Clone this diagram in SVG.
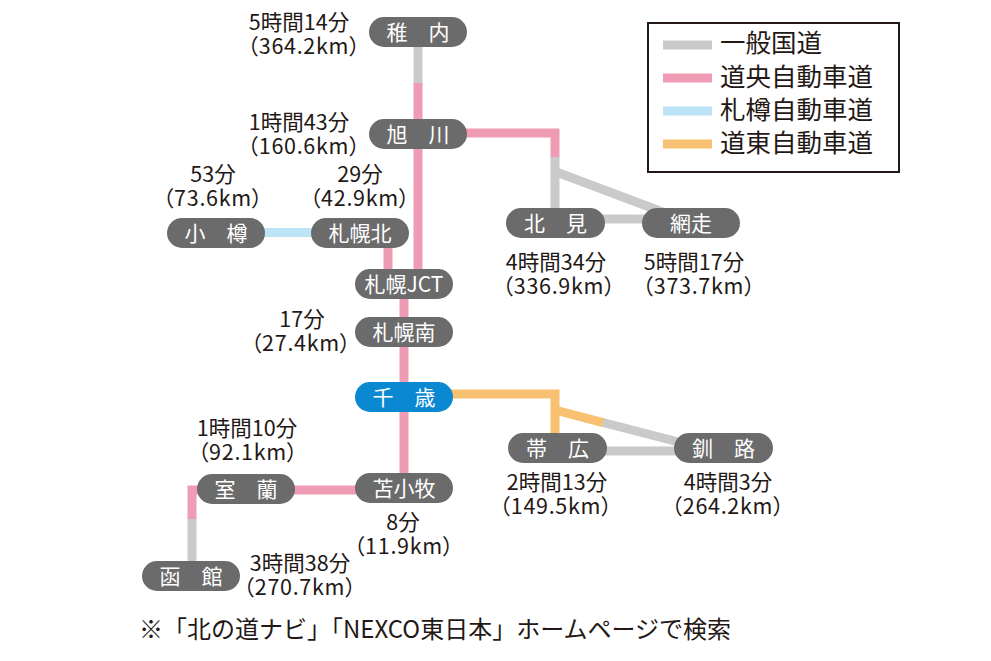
<svg xmlns="http://www.w3.org/2000/svg" width="991" height="661" viewBox="0 0 991 661">
<style>
.ln{fill:none;stroke-width:9;stroke-linecap:butt;stroke-linejoin:miter}
.g{stroke:#c9caca}.p{stroke:#ef9bb4}.b{stroke:#bde3f6}.o{stroke:#f8c172}
.pill{fill:#6b6b6b}
.pill.blue{fill:#0a88d2}
.nt{font-family:"Noto Sans CJK JP","Noto Sans",sans-serif;font-size:21px;fill:#ffffff;text-anchor:middle}
.lb{font-family:"Noto Sans CJK JP","Noto Sans",sans-serif;font-size:21.5px;fill:#231815;text-anchor:middle}
.km{font-feature-settings:"palt";letter-spacing:0.7px}
.lg{font-family:"Noto Sans CJK JP","Noto Sans",sans-serif;font-size:25.5px;fill:#231815}
.ft{font-family:"Noto Sans CJK JP","Noto Sans",sans-serif;font-size:24px;fill:#231815}
</style>
<rect width="991" height="661" fill="#ffffff"/>

<g id="connectors">
<line class="ln g" x1="418" y1="45" x2="418" y2="84"/>
<line class="ln p" x1="418" y1="83" x2="418" y2="284"/>
<polyline class="ln p" points="460,133 555,133 555,158"/>
<line class="ln g" x1="555" y1="157" x2="555" y2="215"/>
<line class="ln g" x1="555" y1="171.5" x2="680" y2="218.5"/>
<line class="ln g" x1="595" y1="219" x2="655" y2="219"/>
<line class="ln b" x1="255" y1="232.5" x2="325" y2="232.5"/>
<line class="ln p" x1="388" y1="240" x2="388" y2="284"/>
<line class="ln p" x1="404" y1="284" x2="404" y2="488"/>
<polyline class="ln o" points="445,394 555,394 555,440"/>
<line class="ln o" x1="555" y1="410" x2="604" y2="422.8"/>
<line class="ln g" x1="603" y1="422.5" x2="690" y2="445"/>
<line class="ln g" x1="595" y1="451" x2="685" y2="451"/>
<polyline class="ln p" points="404,490 192,490 192,520"/>
<line class="ln g" x1="192" y1="519" x2="192" y2="570"/>
</g>

<g id="legend">
<rect x="648" y="23" width="251" height="149" fill="#ffffff" stroke="#231815" stroke-width="2"/>
<line class="ln g" x1="663" y1="45" x2="712" y2="45"/>
<line class="ln p" x1="663" y1="78" x2="712" y2="78"/>
<line class="ln b" x1="663" y1="111" x2="712" y2="111"/>
<line class="ln o" x1="663" y1="144" x2="712" y2="144"/>
<text class="lg" x="720" y="52">一般国道</text>
<text class="lg" x="720" y="86">道央自動車道</text>
<text class="lg" x="720" y="119">札樽自動車道</text>
<text class="lg" x="720" y="152">道東自動車道</text>
</g>

<g id="n-wakkanai"><rect class="pill" x="369" y="17" width="98" height="30" rx="15"/><text class="nt" x="418" y="40">稚　内</text></g>
<g id="n-asahikawa"><rect class="pill" x="369" y="119" width="98" height="30" rx="15"/><text class="nt" x="418" y="142">旭　川</text></g>
<g id="n-kitami"><rect class="pill" x="506" y="208" width="99" height="30" rx="15"/><text class="nt" x="555.5" y="231">北　見</text></g>
<g id="n-abashiri"><rect class="pill" x="642" y="208" width="98" height="30" rx="15"/><text class="nt" x="691" y="231">網走</text></g>
<g id="n-otaru"><rect class="pill" x="167" y="218" width="98" height="30" rx="15"/><text class="nt" x="216" y="241">小　樽</text></g>
<g id="n-sapporokita"><rect class="pill" x="311" y="218" width="98" height="30" rx="15"/><text class="nt" x="360" y="241">札幌北</text></g>
<g id="n-sapporojct"><rect class="pill" x="355" y="269" width="98" height="30" rx="15"/><text class="nt" x="404" y="292">札幌JCT</text></g>
<g id="n-sapporominami"><rect class="pill" x="355" y="317" width="98" height="30" rx="15"/><text class="nt" x="404" y="340">札幌南</text></g>
<g id="n-chitose"><rect class="pill blue" x="355" y="382" width="98" height="30" rx="15"/><text class="nt" x="404" y="405">千　歳</text></g>
<g id="n-tomakomai"><rect class="pill" x="355" y="473" width="98" height="30" rx="15"/><text class="nt" x="404" y="496">苫小牧</text></g>
<g id="n-obihiro"><rect class="pill" x="508" y="433" width="99" height="30" rx="15"/><text class="nt" x="557.5" y="456">帯　広</text></g>
<g id="n-kushiro"><rect class="pill" x="674" y="433" width="99" height="30" rx="15"/><text class="nt" x="723.5" y="456">釧　路</text></g>
<g id="n-muroran"><rect class="pill" x="197" y="474" width="98" height="30" rx="15"/><text class="nt" x="246" y="497">室　蘭</text></g>
<g id="n-hakodate"><rect class="pill" x="142" y="561" width="98" height="30" rx="15"/><text class="nt" x="191" y="584">函　館</text></g>

<g id="labels">
<text class="lb" x="299" y="30">5時間14分</text>
<text class="lb km" x="304" y="54">（364.2km）</text>
<text class="lb" x="299" y="130">1時間43分</text>
<text class="lb km" x="304" y="154">（160.6km）</text>
<text class="lb" x="213" y="182">53分</text>
<text class="lb km" x="213" y="206">（73.6km）</text>
<text class="lb" x="360" y="182">29分</text>
<text class="lb km" x="360" y="206">（42.9km）</text>
<text class="lb" x="302" y="327">17分</text>
<text class="lb km" x="301" y="351">（27.4km）</text>
<text class="lb" x="556" y="270">4時間34分</text>
<text class="lb km" x="559" y="294">（336.9km）</text>
<text class="lb" x="694" y="270">5時間17分</text>
<text class="lb km" x="699" y="294">（373.7km）</text>
<text class="lb" x="557" y="490">2時間13分</text>
<text class="lb km" x="556" y="514">（149.5km）</text>
<text class="lb" x="728" y="490">4時間3分</text>
<text class="lb km" x="728" y="514">（264.2km）</text>
<text class="lb" x="247" y="436">1時間10分</text>
<text class="lb km" x="248" y="460">（92.1km）</text>
<text class="lb" x="403" y="530">8分</text>
<text class="lb km" x="404" y="554">（11.9km）</text>
<text class="lb" x="300" y="571">3時間38分</text>
<text class="lb km" x="300" y="595">（270.7km）</text>
</g>

<text class="ft" x="139" y="638">※「北の道ナビ」「NEXCO東日本」ホームページで検索</text>
</svg>
